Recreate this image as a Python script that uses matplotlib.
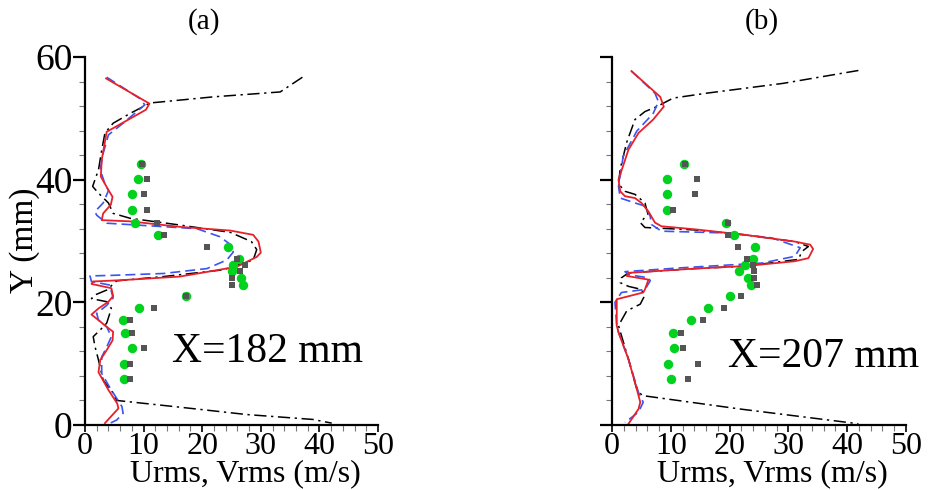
import matplotlib
matplotlib.use("Agg")
import matplotlib.pyplot as plt
from matplotlib.ticker import MultipleLocator

plt.rcParams['font.family'] = ['Liberation Serif', 'DejaVu Serif']

# measured points (same Y levels in both panels)
y_pts = [42.5, 40.1, 37.6, 35.0, 33.0, 31.0, 29.0, 27.0, 26.1, 25.1, 23.9, 22.9,
         21.0, 19.0, 17.1, 15.0, 12.5, 10.0, 7.5]

# panel (a) X=182 mm
a_green = [9.6, 9.1, 8.1, 8.0, 8.6, 12.4, 24.4, 26.2, 25.3, 25.0, 26.6, 27.0,
           17.2, 9.2, 6.4, 6.8, 8.0, 6.7, 6.7]
a_gray = [9.7, 10.6, 10.0, 10.5, 12.3, 13.5, 20.8, 26.0, 27.3, 26.5, 25.1, 25.1,
          17.2, 11.7, 7.6, 8.0, 10.0, 7.7, 7.6]

a_red_x = [3.6, 11.0, 10.4, 3.7, 2.85, 2.7, 4.0, 4.7, 4.4, 3.1, 2.85, 7.7, 16.2, 24.8,
           28.7, 29.6, 30.0, 29.3, 25.9, 16.2, 6.0, 1.4, 1.1, 4.5, 4.8, 4.0, 2.3, 1.1,
           2.3, 3.7, 4.8, 4.7, 3.7, 2.6, 2.3, 4.0, 5.5, 5.7, 3.4]
a_red_y = [56.5, 52.4, 51.4, 47.8, 43.2, 40.5, 38.3, 37.2, 35.9, 34.5, 33.4, 33.2, 32.3,
           31.7, 31.0, 29.9, 28.1, 27.4, 25.8, 24.2, 23.6, 23.4, 23.0, 22.3, 21.0, 20.1,
           19.0, 18.0, 17.1, 16.0, 15.2, 13.8, 12.2, 10.6, 8.6, 5.7, 3.5, 2.7, 0.3]

a_blue_x = [3.7, 9.4, 10.2, 6.5, 4.0, 3.1, 2.6, 3.4, 4.0, 3.1, 1.7, 2.0, 3.7, 10.5, 19.1,
            23.0, 25.0, 25.3, 24.2, 20.8, 13.4, 4.8, 0.85, 1.1, 4.3, 4.5, 4.8, 3.7, 2.0,
            2.3, 3.7, 4.5, 3.7, 2.85, 2.85, 4.3, 6.3, 6.5, 5.4, 4.3]
a_blue_y = [56.7, 53.2, 52.2, 49.2, 47.3, 44.3, 41.6, 39.3, 38.2, 36.2, 34.8, 34.2, 32.9,
            32.5, 32.0, 30.7, 29.3, 28.2, 26.9, 25.5, 24.7, 24.4, 24.3, 23.4, 22.8, 21.8,
            20.7, 19.5, 18.2, 17.1, 16.0, 14.4, 12.7, 11.1, 8.4, 6.0, 3.0, 1.9, 0.8, 0.3]

a_black_x = [37.1, 33.3, 21.9, 11.1, 7.7, 4.8, 3.4, 2.85, 2.3, 1.3, 2.3, 4.0, 4.8, 7.7,
             16.2, 24.8, 28.4, 29.3, 28.7, 23.6, 13.4, 5.4, 3.7, 1.7, 1.1, 3.7, 4.5, 3.7,
             2.6, 1.4, 1.7, 2.3, 3.1, 4.8, 5.4, 16.2, 27.6, 38.9, 42.1]
a_black_y = [56.7, 54.3, 53.5, 52.5, 50.8, 49.2, 47.6, 44.8, 41.6, 38.9, 37.8, 36.2, 34.5,
             33.7, 32.6, 31.4, 29.9, 28.6, 26.9, 25.3, 24.2, 23.5, 22.0, 21.2, 20.6, 20.1,
             19.0, 16.6, 15.5, 14.4, 12.8, 10.6, 7.3, 5.2, 4.0, 2.9, 1.7, 0.9, 0.3]

# panel (b) X=207 mm
b_green = [12.2, 9.3, 9.3, 9.3, 19.4, 20.8, 24.3, 24.0, 22.6, 21.6, 23.1, 23.6,
           20.1, 16.3, 13.4, 10.3, 10.5, 9.5, 10.0]
b_gray = [12.4, 14.5, 14.1, 10.4, 19.8, 19.7, 21.5, 23.0, 24.0, 24.1, 24.2, 24.6,
          21.9, 19.0, 15.4, 11.7, 12.0, 14.6, 12.9]

b_red_x = [3.3, 8.2, 8.8, 7.0, 4.5, 2.8, 1.1, 1.4, 2.2, 3.9, 5.0, 6.2, 7.3, 8.4, 14.1,
           22.6, 31.1, 33.7, 34.2, 33.4, 31.1, 22.6, 14.1, 2.8, 2.5, 6.2, 5.6, 5.3, 0.8,
           0.8, 1.1, 2.8, 4.2, 4.8, 4.5, 2.8]
b_red_y = [57.7, 53.5, 51.9, 49.8, 47.6, 44.9, 40.0, 38.1, 37.3, 37.0, 36.2, 34.8, 33.0,
           32.4, 31.9, 31.0, 29.9, 29.4, 28.7, 27.2, 26.7, 25.9, 25.5, 24.8, 24.3, 23.7,
           22.1, 21.6, 20.5, 16.2, 15.1, 10.7, 5.9, 3.7, 2.6, 0.2]

b_blue_x = [3.3, 7.3, 7.9, 7.0, 4.2, 1.9, 1.1, 1.4, 3.9, 5.6, 6.5, 6.7, 8.4, 19.8, 27.2,
            32.0, 31.1, 25.5, 11.3, 2.2, 2.8, 6.2, 6.5, 5.6, 1.6, 0.5, 0.8, 1.1, 2.8,
            4.5, 5.3, 4.5, 2.2]
b_blue_y = [57.7, 54.1, 52.7, 50.8, 47.9, 43.8, 38.9, 37.0, 36.2, 35.7, 34.0, 32.7, 31.6,
            31.3, 30.5, 28.9, 27.5, 26.4, 25.6, 25.0, 24.5, 24.0, 23.5, 22.1, 21.6, 20.0,
            16.2, 15.1, 10.7, 5.3, 3.7, 2.1, 0.4]

b_black_x = [41.9, 29.1, 16.1, 10.4, 7.6, 5.6, 3.9, 2.5, 1.4, 1.1, 2.2, 3.9, 5.6, 6.1,
             4.8, 5.6, 14.1, 22.6, 31.1, 33.4, 32.3, 31.7, 22.6, 14.1, 2.8, 1.6, 1.4,
             2.8, 5.0, 5.5, 4.8, 2.5, 1.1, 2.8, 4.2, 5.1, 21.8, 41.9]
b_black_y = [57.8, 55.7, 54.1, 53.3, 51.9, 51.1, 49.8, 46.1, 41.8, 39.3, 38.1, 37.6, 36.2,
             34.4, 33.0, 32.2, 31.8, 31.0, 29.9, 29.1, 28.3, 27.0, 25.9, 25.5, 24.8, 24.0,
             23.2, 22.6, 22.1, 21.0, 19.7, 18.6, 16.2, 10.7, 5.9, 4.8, 2.6, 0.2]

panels = [
    dict(pos=[0.0914, 0.1327, 0.3151, 0.751], green=a_green, gray=a_gray,
         red=(a_red_x, a_red_y), blue=(a_blue_x, a_blue_y), black=(a_black_x, a_black_y),
         label='X=182 mm', lpos=(172, 362), title='(a)', tx=204, yticks=True, xl=245),
    dict(pos=[0.6581, 0.1327, 0.3161, 0.751], green=b_green, gray=b_gray,
         red=(b_red_x, b_red_y), blue=(b_blue_x, b_blue_y), black=(b_black_x, b_black_y),
         label='X=207 mm', lpos=(728, 367), title='(b)', tx=762, yticks=False, xl=772),
]

fig = plt.figure(figsize=(9.3, 4.9), dpi=100)
W, H = 930, 490

for p in panels:
    ax = fig.add_axes(p['pos'])
    ax.plot(*p['black'], color='black', lw=1.1, dashes=(8, 3, 1.5, 3))
    ax.plot(*p['blue'], color='#3a55f0', lw=1.2, dashes=(6, 3))
    ax.plot(*p['red'], color='#e8202a', lw=1.3)
    ax.plot(p['green'], y_pts, 'o', color='#00d21e', ms=6.8, mew=0, zorder=3)
    ax.plot(p['gray'], y_pts, 's', color='#555555', ms=4.6, mew=0, zorder=4)

    ax.set_xlim(0, 50)
    ax.set_ylim(0, 60)
    ax.spines['top'].set_visible(False)
    ax.spines['right'].set_visible(False)
    for s in ('left', 'bottom'):
        ax.spines[s].set_linewidth(1.6)
    ax.xaxis.set_major_locator(MultipleLocator(10))
    ax.xaxis.set_minor_locator(MultipleLocator(2))
    ax.yaxis.set_major_locator(MultipleLocator(20))
    ax.yaxis.set_minor_locator(MultipleLocator(4))
    ax.tick_params(axis='x', which='major', length=5, width=1.2, labelsize=23, pad=0)
    ax.tick_params(axis='x', which='minor', length=4, width=0.8, color='#777777')
    ax.tick_params(axis='y', which='major', length=9, width=1.6, labelsize=27, pad=0)
    ax.tick_params(axis='y', which='minor', length=4, width=0.8, color='#777777')
    if not p['yticks']:
        ax.set_yticklabels([])

    fig.text(p['lpos'][0] / W, 1 - p['lpos'][1] / H, p['label'], fontsize=30,
             ha='left', va='baseline')
    fig.text(p['tx'] / W, 1 - 22 / H, p['title'], fontsize=21, ha='center', va='center')
    fig.text(p['xl'] / W, 1 - 474 / H, 'Urms, Vrms (m/s)', fontsize=23,
             ha='center', va='center')

fig.text(25 / W, 1 - 240 / H, 'Y (mm)', fontsize=24, rotation=90, ha='center', va='center')

plt.savefig('out.png', dpi=100)
